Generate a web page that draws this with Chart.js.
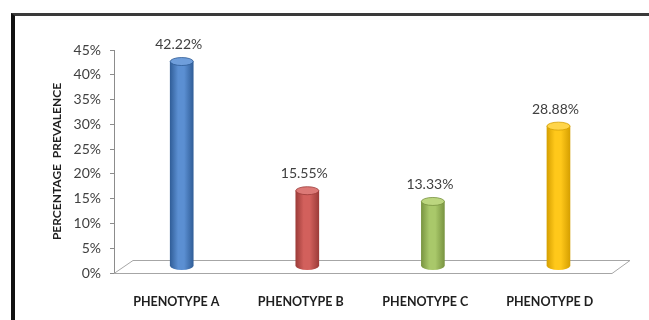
<!DOCTYPE html>
<html>
<head>
<meta charset="utf-8">
<script src="https://cdn.jsdelivr.net/npm/chart.js@4.4.1/dist/chart.umd.min.js"></script>
<style>
  body { margin: 0; background: #fff; }
  #wrap { position: relative; width: 649px; height: 320px; overflow: hidden; }
  #grafico { position: absolute; left: 0; top: 0; }
  #marco {
    position: absolute; left: 11px; top: 13px; width: 700px; height: 400px;
    border-left: 4px solid #111; border-top: 3px solid #3a3a3a;
    pointer-events: none;
  }
</style>
</head>
<body>
<div id="wrap">
  <canvas id="grafico" width="649" height="320"></canvas>
  <div id="marco"></div>
</div>
<script>
// Datos del gráfico
const categorias = ["PHENOTYPE A", "PHENOTYPE B", "PHENOTYPE C", "PHENOTYPE D"];
const prevalencia = [42.22, 15.55, 13.33, 28.88];
const ticksY = [0, 5, 10, 15, 20, 25, 30, 35, 40, 45];

// Colores de los cilindros: [borde oscuro, brillo, tapa]
const colores = [
  ["#2f5c96", "#5b8fd2", "#6f9edb"],
  ["#9a3a37", "#d2605c", "#dc7976"],
  ["#77923f", "#a9c86a", "#bcd67f"],
  ["#d49e00", "#ffc81a", "#ffd54a"]
];

const fuente = "Lato, 'Open Sans', sans-serif";

function degradado(ctx) {
  const chart = ctx.chart;
  const i = ctx.dataIndex;
  if (!chart.chartArea || i === undefined) return colores[0][1];
  const x = chart.scales.xb.getPixelForValue(i);
  const c = colores[i];
  const g = chart.ctx.createLinearGradient(x - 12, 0, x + 12, 0);
  g.addColorStop(0, c[0]);
  g.addColorStop(0.35, c[1]);
  g.addColorStop(0.6, c[1]);
  g.addColorStop(1, c[0]);
  return g;
}

// Suelo 3D bajo las columnas
const suelo = {
  id: "suelo",
  beforeDatasetsDraw(chart) {
    const { ctx, chartArea: a } = chart;
    ctx.save();
    ctx.strokeStyle = "#a6a6a6";
    ctx.lineWidth = 1;
    ctx.beginPath();
    ctx.moveTo(a.left, a.bottom + 0.5);
    ctx.lineTo(a.left + 19, a.bottom - 12.5);
    ctx.lineTo(a.right + 18, a.bottom - 12.5);
    ctx.lineTo(a.right, a.bottom + 0.5);
    ctx.closePath();
    ctx.stroke();
    ctx.restore();
  }
};

// Tapas de los cilindros y etiquetas de valor
const cilindros = {
  id: "cilindros",
  afterDatasetsDraw(chart) {
    const { ctx } = chart;
    const meta = chart.getDatasetMeta(0);
    ctx.save();
    meta.data.forEach((el, i) => {
      const r = el.width / 2;
      const c = colores[i];
      const g = ctx.createLinearGradient(el.x - r, 0, el.x + r, 0);
      g.addColorStop(0, c[0]);
      g.addColorStop(0.35, c[1]);
      g.addColorStop(0.6, c[1]);
      g.addColorStop(1, c[0]);
      ctx.fillStyle = g;
      ctx.beginPath();
      ctx.ellipse(el.x, el.base, r, 4, 0, 0, Math.PI);
      ctx.fill();
      ctx.fillStyle = c[2];
      ctx.strokeStyle = c[0];
      ctx.lineWidth = 0.8;
      ctx.beginPath();
      ctx.ellipse(el.x, el.y, r, 4, 0, 0, Math.PI * 2);
      ctx.fill();
      ctx.stroke();

      ctx.fillStyle = "#404040";
      ctx.font = "14px " + fuente;
      ctx.textAlign = "center";
      ctx.textBaseline = "middle";
      ctx.fillText(prevalencia[i].toFixed(2) + "%", el.x - 3, el.y - 17);
    });
    ctx.restore();
  }
};

new Chart(document.getElementById("grafico"), {
  type: "bar",
  data: {
    datasets: [{
      data: prevalencia.map((v, i) => ({ x: i, y: v })),
      xAxisID: "xb",
      yAxisID: "yb",
      backgroundColor: degradado,
      borderWidth: 0,
      barThickness: 23
    }]
  },
  options: {
    responsive: false,
    animation: false,
    layout: { padding: { top: 50, right: 37, bottom: 0, left: 0 } },
    plugins: { legend: { display: false }, tooltip: { enabled: false } },
    scales: {
      x: {
        type: "category",
        labels: categorias,
        offset: true,
        grid: { display: false },
        border: { display: false },
        ticks: { color: "#1f1f1f", font: { family: fuente, size: 12.5, weight: "bold" }, padding: 13 },
        afterFit: s => { s.height = 47; }
      },
      xb: { type: "linear", display: false, min: -0.256, max: 3.143 },
      y: {
        min: 0,
        max: 45,
        afterBuildTicks: s => { s.ticks = ticksY.map(v => ({ value: v })); },
        ticks: { color: "#404040", font: { family: fuente, size: 14 }, padding: 9, callback: v => v + "%" },
        grid: { drawOnChartArea: false, tickLength: 4, color: "#8c8c8c" },
        border: { color: "#8c8c8c" },
        title: {
          display: true,
          text: "PERCENTAGE  PREVALENCE",
          color: "#1f1f1f",
          font: { family: fuente, size: 12, weight: "bold" },
          padding: { top: 50, bottom: 0 }
        },
        afterFit: s => { s.width = 114; }
      },
      yb: { type: "linear", display: false, min: -1.44, max: 44.6 }
    }
  },
  plugins: [suelo, cilindros]
});
</script>
</body>
</html>
